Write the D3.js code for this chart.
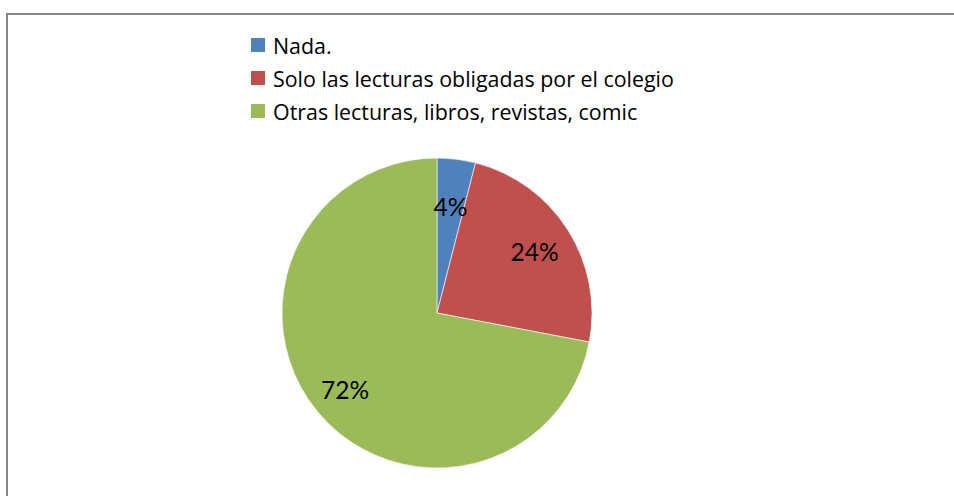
<!DOCTYPE html>
<html>
<head>
<meta charset="utf-8">
<script src="https://cdn.jsdelivr.net/npm/d3@7"></script>
<style>
  html, body { margin: 0; padding: 0; background: #fff; }
  svg { display: block; }
  text { fill: #000; }
</style>
</head>
<body>
<svg id="chart" width="954" height="496"></svg>
<script>
const categories = ["Nada.", "Solo las lecturas obligadas por el colegio", "Otras lecturas, libros, revistas, comic"];
const values = [4, 24, 72];
const labels = ["4%", "24%", "72%"];
const colors = ["#4F81BD", "#C0504D", "#9BBB59"];

const svg = d3.select("#chart");
const W = 954, H = 496;

svg.append("rect").attr("x", 0).attr("y", 0).attr("width", W).attr("height", H).attr("fill", "#fff");
// frame (extends beyond right and bottom edges)
svg.append("rect")
  .attr("x", 7).attr("y", 14).attr("width", 1000).attr("height", 1000)
  .attr("fill", "none").attr("stroke", "#868686").attr("stroke-width", 2);

const cx = 437, cy = 313, r = 155;
const pie = d3.pie().sort(null).value(d => d)(values);
const arc = d3.arc().innerRadius(0).outerRadius(r);

const g = svg.append("g").attr("transform", `translate(${cx},${cy})`);
g.selectAll("path").data(pie).join("path")
  .attr("d", arc)
  .attr("fill", (d, i) => colors[i])
  .attr("stroke", "#fff").attr("stroke-width", 0.6);

const labelRadius = [0.69, 0.745, 0.77];
g.selectAll("text.lbl").data(pie).join("text")
  .attr("class", "lbl")
  .attr("transform", (d, i) => {
    const a = d3.arc().innerRadius(r * labelRadius[i]).outerRadius(r * labelRadius[i]);
    const c = a.centroid(d);
    return `translate(${c[0]},${c[1]})`;
  })
  .attr("text-anchor", "middle")
  .attr("dominant-baseline", "central")
  .attr("font-family", "Lato, sans-serif")
  .attr("font-size", 24.5)
  .text((d, i) => labels[i]);

// legend
const lx = 251, ly0 = 45, ldy = 33;
const leg = svg.append("g");
categories.forEach((c, i) => {
  const y = ly0 + i * ldy;
  leg.append("rect").attr("x", lx).attr("y", y - 7).attr("width", 14).attr("height", 14).attr("fill", colors[i]);
  leg.append("text").attr("x", lx + 22).attr("y", y).attr("dominant-baseline", "central")
    .attr("font-family", "'Open Sans', sans-serif")
    .attr("font-size", 21.4).text(c);
});
</script>
</body>
</html>
